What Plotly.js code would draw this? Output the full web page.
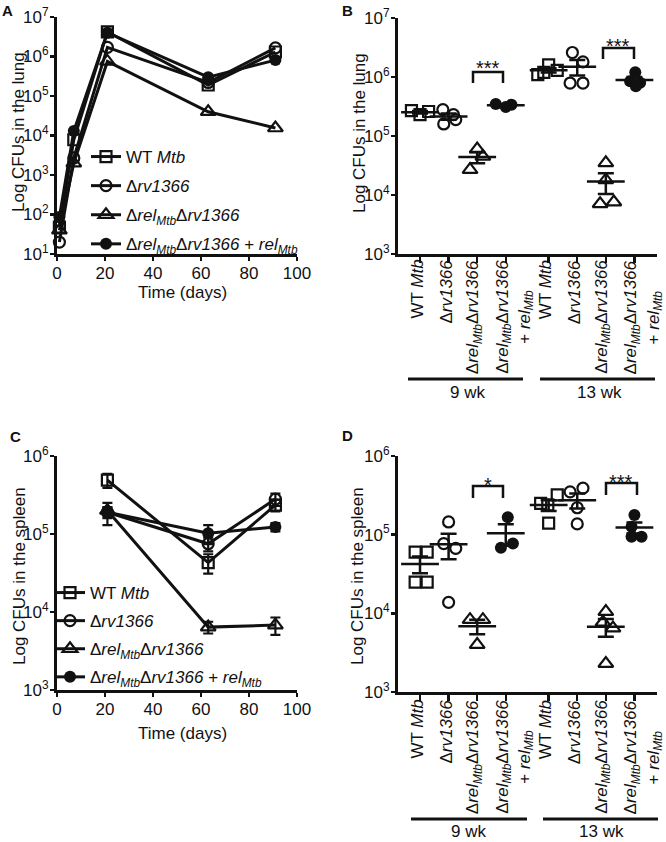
<!DOCTYPE html>
<html>
<head>
<meta charset="utf-8">
<script src="https://cdn.plot.ly/plotly-3.0.1.min.js"></script>
<style>
  body { margin: 0; background: #fff; }
  #fig { width: 666px; height: 842px; }
</style>
</head>
<body>
<div id="fig"></div>
<script>
// --- DATA ---
const strainNames = [
  'WT <i>Mtb</i>',
  'Δ<i>rv1366</i>',
  'Δ<i>rel</i><sub><i>Mtb</i></sub>Δ<i>rv1366</i>',
  'Δ<i>rel</i><sub><i>Mtb</i></sub>Δ<i>rv1366</i> + <i>rel</i><sub><i>Mtb</i></sub>'
];
const strainSymbols = ['square-open', 'circle-open', 'triangle-up-open', 'circle'];

// A : lung, time course
const lungDays = [1, 7, 21, 63, 91];
const lungWT = [48, 7800, 4.2e6, 1.9e5, 1.3e6];
const lungRv = [20, 2700, 1.7e6, 2.2e5, 1.65e6];
const lungRelRv = [40, 2000, 7.5e5, 4.0e4, 1.55e4];
const lungComp = [87, 13000, 4.0e6, 3.0e5, 8.1e5];

// C : spleen, time course (mean +/- SEM)
const spleenDays = [21, 63, 91];
const spleenWT = [4.9e5, 4.3e4, 2.35e5];
const spleenWTErr = [1.0e5, 1.2e4, 4.0e4];
const spleenRv = [1.9e5, 7.5e4, 2.8e5];
const spleenRvErr = [3.0e4, 1.5e4, 5.0e4];
const spleenRelRv = [2.0e5, 6.4e3, 6.8e3];
const spleenRelRvErr = [2.0e4, 1.1e3, 1.7e3];
const spleenComp = [1.9e5, 1.02e5, 1.23e5];
const spleenCompErr = [6.0e4, 2.8e4, 1.5e4];

// B, D : individual mice at 9 wk and 13 wk
const catPos = [0, 1, 2, 3, 4.5, 5.5, 6.5, 7.5];
const catStrain = [0, 1, 2, 3, 0, 1, 2, 3];
const catLabels = [
  'WT <i>Mtb</i>',
  'Δ<i>rv1366</i>',
  'Δ<i>rel</i><sub><i>Mtb</i></sub>Δ<i>rv1366</i>',
  'Δ<i>rel</i><sub><i>Mtb</i></sub>Δ<i>rv1366</i><br>+ <i>rel</i><sub><i>Mtb</i></sub>'
];
const groupLabels = ['9 wk', '13 wk'];

const lungMice = [
  [2.7e5, 2.3e5, 2.6e5],
  [2.8e5, 2.3e5, 1.6e5, 1.9e5],
  [6.0e4, 4.5e4, 2.7e4],
  [3.5e5, 3.1e5, 3.4e5],
  [1.1e6, 1.6e6, 1.3e6, 1.2e6],
  [2.6e6, 1.8e6, 7.9e5, 7.9e5],
  [3.5e4, 1.8e4, 7.1e3, 7.6e3],
  [1.2e6, 8.5e5, 8.0e5, 7.0e5]
];
const lungJitter = [
  [-0.3, 0, 0.3],
  [-0.2, 0.17, -0.17, 0.25],
  [0, 0.2, -0.25],
  [-0.35, 0, 0.2],
  [-0.38, 0, 0.3, -0.17],
  [-0.17, 0.2, -0.25, 0.2],
  [0, 0, -0.2, 0.28],
  [0.03, -0.15, 0.2, 0.05]
];
const spleenMice = [
  [6.0e4, 6.0e4, 2.5e4, 2.5e4],
  [1.45e5, 7.7e4, 6.7e4, 1.38e4],
  [8.3e3, 8.3e3, 4.0e3],
  [1.67e5, 6.8e4, 7.7e4],
  [2.5e5, 2.4e5, 3.2e5, 1.4e5],
  [3.5e5, 3.9e5, 2.2e5, 1.37e5],
  [1.05e4, 7.7e3, 6.5e3, 2.3e3],
  [1.78e5, 1.26e5, 9.4e4, 9.4e4]
];
const spleenJitter = [
  [-0.17, 0.25, -0.17, 0.25],
  [0, -0.17, 0.25, 0],
  [-0.25, 0.2, 0],
  [0.07, -0.17, 0.25],
  [-0.28, -0.03, 0.3, 0],
  [-0.25, 0.2, 0, 0],
  [0, -0.1, 0.25, 0],
  [0, -0.1, -0.1, 0.25]
];

const logTickVals = [10, 100, 1e3, 1e4, 1e5, 1e6, 1e7];
const logTickText = ['10<sup>1</sup>', '10<sup>2</sup>', '10<sup>3</sup>', '10<sup>4</sup>',
  '10<sup>5</sup>', '10<sup>6</sup>', '10<sup>7</sup>'];

// --- HELPERS ---
const W = 666, H = 842;
const fx = x => x / W;
const fy = y => 1 - y / H;
const FONT = 'Liberation Sans, Arial, sans-serif';
const BLACK = '#111';

function mean(a) { return a.reduce((s, v) => s + v, 0) / a.length; }
function sem(a) {
  const m = mean(a);
  const sd = Math.sqrt(a.reduce((s, v) => s + (v - m) * (v - m), 0) / (a.length - 1));
  return sd / Math.sqrt(a.length);
}

function markerFor(i) {
  if (i === 3) return { symbol: 'circle', size: 12, color: BLACK, line: { width: 0 } };
  return { symbol: strainSymbols[i], size: i === 2 ? 13 : 11, color: BLACK, line: { color: BLACK, width: 2.2 } };
}

const traces = [];

// time course panels
function addCourse(days, series, errs, xa, ya, legendId) {
  series.forEach((ys, i) => {
    const t = {
      x: days, y: ys, xaxis: xa, yaxis: ya,
      type: 'scatter', mode: 'lines+markers',
      name: strainNames[i], legend: legendId, legendgroup: legendId + i,
      line: { color: BLACK, width: 3 },
      marker: markerFor(i),
      cliponaxis: false
    };
    if (errs) {
      t.error_y = { type: 'data', array: errs[i], visible: true, color: BLACK, thickness: 2.2, width: 5 };
    }
    traces.push(t);
  });
}
addCourse(lungDays, [lungWT, lungRv, lungRelRv, lungComp], null, 'x', 'y', 'legend');
addCourse(spleenDays, [spleenWT, spleenRv, spleenRelRv, spleenComp],
  [spleenWTErr, spleenRvErr, spleenRelRvErr, spleenCompErr], 'x3', 'y3', 'legend2');

// scatter dot panels
function addDots(mice, jitter, xa, ya) {
  mice.forEach((vals, g) => {
    traces.push({
      x: vals.map((_, k) => catPos[g] + jitter[g][k]), y: vals,
      xaxis: xa, yaxis: ya, type: 'scatter', mode: 'markers',
      marker: markerFor(catStrain[g]), showlegend: false, cliponaxis: false
    });
  });
  traces.push({
    x: catPos, y: mice.map(mean), xaxis: xa, yaxis: ya,
    type: 'scatter', mode: 'markers', showlegend: false, cliponaxis: false,
    marker: { symbol: 'line-ew', size: 27, color: BLACK, line: { color: BLACK, width: 2.5 } },
    error_y: { type: 'data', array: mice.map(sem), visible: true, color: BLACK, thickness: 2.5, width: 8 }
  });
}
addDots(lungMice, lungJitter, 'x2', 'y2');
addDots(spleenMice, spleenJitter, 'x4', 'y4');

// --- LAYOUT ---
const axisBase = {
  showline: true, linecolor: BLACK, linewidth: 3, mirror: false,
  ticks: 'outside', ticklen: 4, tickwidth: 2.5, tickcolor: BLACK, ticklabelstandoff: -2,
  showgrid: false, zeroline: false, fixedrange: true,
  tickfont: { family: FONT, size: 17, color: BLACK }
};
function timeAxis(x0, x1, anchor) {
  return Object.assign({}, axisBase, {
    domain: [fx(x0), fx(x1)], range: [0, 100], tickvals: [0, 20, 40, 60, 80, 100], anchor: anchor
  });
}
function catAxis(x0, x1, anchor) {
  return Object.assign({}, axisBase, {
    domain: [fx(x0), fx(x1)], range: [-0.77, 8.29], tickmode: 'array', tickvals: catPos,
    ticklen: 6, showticklabels: false, anchor: anchor
  });
}
function logAxis(top, bottom, lo, hi, anchor) {
  return Object.assign({}, axisBase, {
    domain: [fy(bottom), fy(top)], type: 'log', range: [lo, hi], anchor: anchor,
    tickmode: 'array', tickvals: logTickVals, ticktext: logTickText
  });
}

const annotations = [];
function txt(text, x, y, size, extra) {
  annotations.push(Object.assign({
    text: text, x: fx(x), y: fy(y), xref: 'paper', yref: 'paper', showarrow: false,
    xanchor: 'center', yanchor: 'middle', font: { family: FONT, size: size, color: BLACK }
  }, extra || {}));
}
// panel letters
txt('<b>A</b>', 7, 10, 15);
txt('<b>B</b>', 347, 10, 15);
txt('<b>C</b>', 15, 437, 15);
txt('<b>D</b>', 347, 436, 15);
// axis titles
txt('Log CFUs in the lung', 19, 132, 17, { textangle: -90 });
txt('Log CFUs in the lung', 360, 133, 17, { textangle: -90 });
txt('Log CFUs in the spleen', 19, 576, 17, { textangle: -90 });
txt('Log CFUs in the spleen', 357, 576, 17, { textangle: -90 });
txt('Time (days)', 182, 293, 17);
txt('Time (days)', 182, 733, 17);
// significance
txt('***', 488, 68, 20);
txt('***', 618, 46, 20);
txt('*', 488, 485, 20);
txt('***', 621, 482, 20);
// group labels
txt(groupLabels[0], 467, 392, 17);
txt(groupLabels[1], 599, 392, 17);
txt(groupLabels[0], 469, 831, 17);
txt(groupLabels[1], 601, 831, 17);

// category labels (rotated)
function catText(xa, yTop) {
  catPos.forEach((p, g) => {
    const lab = catLabels[catStrain[g]];
    annotations.push({
      text: lab, x: p, xref: xa, y: fy(yTop), yref: 'paper', showarrow: false,
      textangle: -90, xanchor: 'center', yanchor: 'top', align: 'center',
      xshift: lab.indexOf('<br>') >= 0 ? 9 : -3,
      font: { family: FONT, size: 17, color: BLACK }
    });
  });
}
catText('x2', 258);
catText('x4', 698);

const shapes = [];
function path(pts, w) {
  const d = pts.map((p, i) => (i ? 'L' : 'M') + fx(p[0]).toFixed(5) + ',' + fy(p[1]).toFixed(5)).join(' ');
  shapes.push({ type: 'path', path: d, xref: 'paper', yref: 'paper', line: { color: BLACK, width: w } });
}
// brackets
path([[473, 83], [473, 72], [503, 72], [503, 83]], 2.5);
path([[603, 59], [603, 48], [634, 48], [634, 59]], 2.5);
path([[473, 498], [473, 486], [503, 486], [503, 498]], 2.5);
path([[606, 495], [606, 483], [637, 483], [637, 495]], 2.5);
// group underlines
path([[408, 379], [523, 379]], 3);
path([[540, 379], [655, 379]], 3);
path([[411, 819], [527, 819]], 3);
path([[543, 819], [658, 819]], 3);

const legendBase = {
  xanchor: 'left', yanchor: 'top', bgcolor: 'rgba(0,0,0,0)',
  font: { family: FONT, size: 17, color: BLACK }, itemwidth: 30
};

const layout = {
  width: W, height: H, margin: { l: 0, r: 0, t: 0, b: 0 },
  paper_bgcolor: '#fff', plot_bgcolor: 'rgba(0,0,0,0)',
  font: { family: FONT, color: BLACK },
  xaxis: timeAxis(57, 297, 'y'),
  yaxis: logAxis(17, 254, 1, 7, 'x'),
  xaxis2: catAxis(398, 657, 'y2'),
  yaxis2: logAxis(18, 254, 3, 7, 'x2'),
  xaxis3: timeAxis(57, 297, 'y3'),
  yaxis3: logAxis(456, 690, 3, 6, 'x3'),
  xaxis4: catAxis(398, 657, 'y4'),
  yaxis4: logAxis(456, 692, 3, 6, 'x4'),
  legend: Object.assign({ x: fx(86), y: fy(139), tracegroupgap: 4 }, legendBase),
  legend2: Object.assign({ x: fx(50), y: fy(575), tracegroupgap: 3 }, legendBase),
  annotations: annotations,
  shapes: shapes
};

Plotly.newPlot('fig', traces, layout, { staticPlot: true });
</script>
</body>
</html>
